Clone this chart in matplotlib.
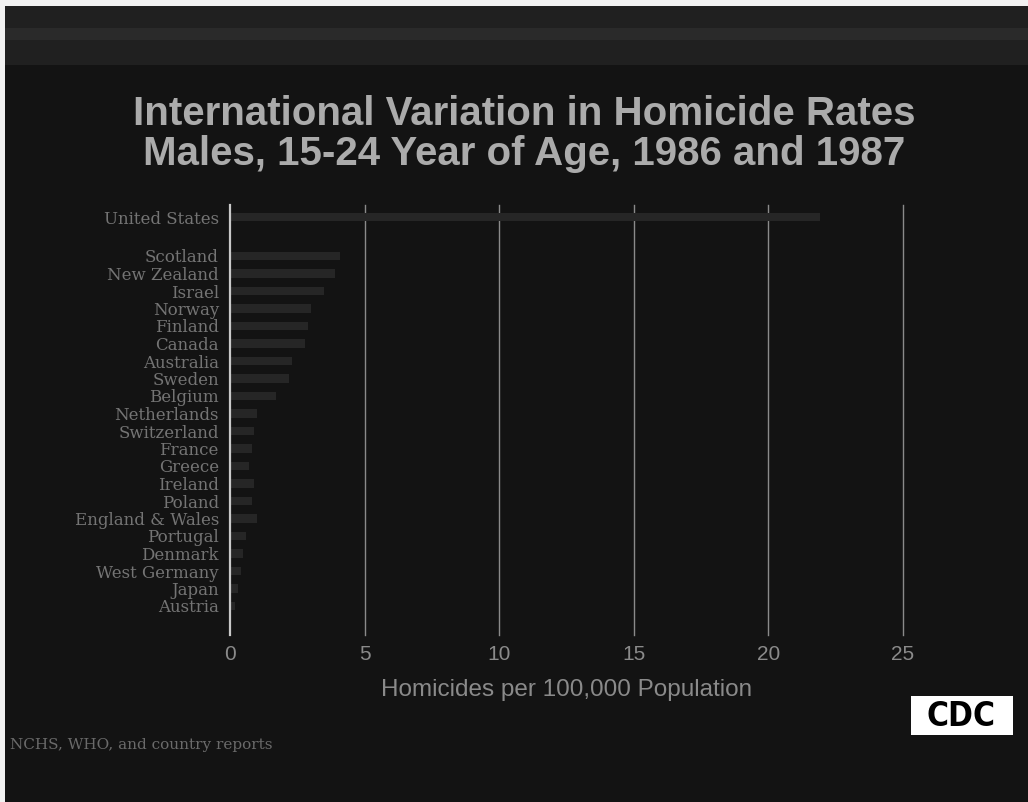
import matplotlib
matplotlib.use("Agg")
import matplotlib.pyplot as plt
from matplotlib.patches import Rectangle

countries = ["United States", "Scotland", "New Zealand", "Israel", "Norway", "Finland",
             "Canada", "Australia", "Sweden", "Belgium", "Netherlands", "Switzerland",
             "France", "Greece", "Ireland", "Poland", "England & Wales", "Portugal",
             "Denmark", "West Germany", "Japan", "Austria"]
rates = [21.9, 4.1, 3.9, 3.5, 3.0, 2.9, 2.8, 2.3, 2.2, 1.7, 1.0, 0.9,
         0.8, 0.7, 0.9, 0.8, 1.0, 0.6, 0.5, 0.4, 0.3, 0.2]
xticks = [0, 5, 10, 15, 20, 25]
title = "International Variation in Homicide Rates\nMales, 15-24 Year of Age, 1986 and 1987"
xlabel = "Homicides per 100,000 Population"
source = "NCHS, WHO, and country reports"

W, H = 1028, 802
BG = "#131313"
fig = plt.figure(figsize=(W / 100, H / 100), dpi=100, facecolor=BG)

# top banner / borders
fig.patches.append(Rectangle((0, 1 - 65 / H), 1, 65 / H, transform=fig.transFigure,
                             facecolor="#202020", edgecolor="none", zorder=0))
fig.patches.append(Rectangle((0, 1 - 40 / H), 1, 12 / H, transform=fig.transFigure,
                             facecolor="#2a2a2a", edgecolor="none", zorder=0))
fig.patches.append(Rectangle((0, 1 - 6 / H), 1, 6 / H, transform=fig.transFigure,
                             facecolor="#f2f2f2", edgecolor="none", zorder=1))
fig.patches.append(Rectangle((0, 0), 5 / W, 1, transform=fig.transFigure,
                             facecolor="#f2f2f2", edgecolor="none", zorder=1))

# axes geometry in pixels
x0, x1 = 230, 903
ytop, ybot = 205, 635
ax = fig.add_axes([x0 / W, 1 - ybot / H, (x1 - x0) / W, (ybot - ytop) / H])
ax.set_facecolor("none")

step = 17.5
pos = [-(256 - 217) / step] + list(range(len(countries) - 1))
ylo = pos[0] - (217 - ytop) / step
yhi = (len(countries) - 2) + (ybot - 606) / step

ax.barh(pos, rates, height=0.5, color="#262626", edgecolor="none", zorder=2)
ax.set_xlim(0, 25)
ax.set_ylim(yhi, ylo)

for t in xticks[1:]:
    ax.axvline(t, color="#8a8a8a", lw=1.0, zorder=1, clip_on=False)
ax.axvline(0, color="#c8c8c8", lw=1.6, zorder=3, clip_on=False)

for s in ax.spines.values():
    s.set_visible(False)
ax.set_yticks(pos)
ax.set_yticklabels(countries, fontsize=12, color="#747474", family="DejaVu Serif")
ax.tick_params(axis="y", length=0, pad=8)
ax.set_xticks(xticks)
ax.set_xticklabels([str(t) for t in xticks], fontsize=15, color="#8a8a8a",
                   family="Liberation Sans")
ax.tick_params(axis="x", length=0, pad=7)
ax.set_xlabel(xlabel, fontsize=17.5, color="#8a8a8a", family="Liberation Sans", labelpad=11)

fig.text(524 / W, 1 - 134 / H, title, ha="center", va="center", fontsize=29,
         fontweight="bold", color="#ababab", family="Liberation Sans", linespacing=1.08)

fig.text(10 / W, 1 - 745 / H, source, ha="left", va="center", fontsize=11,
         color="#6a6a6a", family="DejaVu Serif")

fig.patches.append(Rectangle((911 / W, 1 - 735 / H), 102 / W, 39 / H,
                             transform=fig.transFigure, facecolor="white",
                             edgecolor="none", zorder=5))
fig.text(961 / W, 1 - 716 / H, "CDC", ha="center", va="center", fontsize=24,
         fontweight="bold", fontstretch="condensed", color="black",
         family="DejaVu Sans", zorder=6)

fig.savefig("out.png", dpi=100, facecolor=BG)
